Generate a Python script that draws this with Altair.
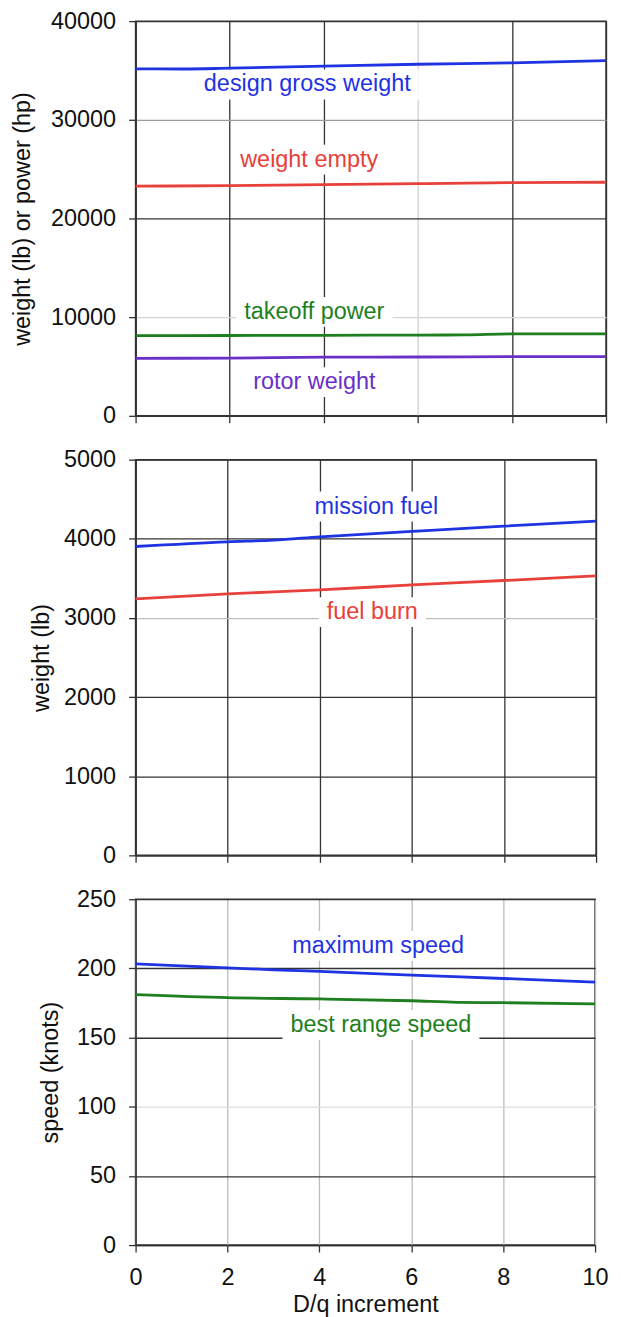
import altair as alt
import pandas as pd

FONT = "Liberation Sans"

# ---------------- data ----------------
# panel 1: weights / power
gross_x = [0, 1, 2, 4, 6, 8, 10]
gross_y = [35170, 35150, 35230, 35430, 35630, 35770, 36000]
empty_x = [0, 2, 4, 6, 8, 10]
empty_y = [23270, 23330, 23430, 23530, 23630, 23670]
power_x = [0, 2, 4, 6, 7, 8, 10]
power_y = [8130, 8140, 8160, 8180, 8200, 8300, 8300]
rotor_x = [0, 2, 4, 6, 8, 10]
rotor_y = [5830, 5850, 5950, 5960, 5990, 6000]

# panel 2: fuel
mfuel_x = [0, 2, 3, 4, 6, 8, 10]
mfuel_y = [3903, 3962, 3983, 4025, 4093, 4160, 4224]
burn_x = [0, 2, 4, 6, 8, 10]
burn_y = [3240, 3304, 3354, 3418, 3473, 3532]

# panel 3: speeds
vmax_x = [0, 2, 3, 4, 6, 8, 10]
vmax_y = [203.3, 200.4, 199.0, 197.8, 195.1, 192.7, 190.1]
vbr_x = [0, 2, 4, 6, 7, 8, 10]
vbr_y = [181.0, 178.8, 177.9, 176.6, 175.5, 175.2, 174.3]

# labels (text, x, y)
p1_labels = ["design gross weight", "weight empty", "takeoff power", "rotor weight"]
p1_lab_x = [3.65, 3.69, 3.8, 3.8]
p1_lab_y = [33580, 25960, 10530, 3410]
p2_labels = ["mission fuel", "fuel burn"]
p2_lab_x = [5.23, 5.14]
p2_lab_y = [4408, 3073]
p3_labels = ["maximum speed", "best range speed"]
p3_lab_x = [5.28, 5.34]
p3_lab_y = [216.3, 159.0]

x_ticks = [0, 2, 4, 6, 8, 10]
p1_yticks = [0, 10000, 20000, 30000, 40000]
p2_yticks = [0, 1000, 2000, 3000, 4000, 5000]
p3_yticks = [0, 50, 100, 150, 200, 250]

# ---------------- styles ----------------
BLUE = "#1f33e3"
RED = "#e8403a"
GREEN = "#1e7f1e"
PURPLE = "#6a30c8"
DARK = "#333333"

# approx Arial advance widths (em) for label boxes
_W = {" ": .278, "a": .556, "b": .556, "c": .5, "d": .556, "e": .556, "f": .278,
      "g": .556, "h": .556, "i": .222, "k": .5, "l": .222, "m": .833, "n": .556,
      "o": .556, "p": .556, "r": .333, "s": .5, "t": .278, "u": .556, "w": .722,
      "x": .5, "y": .5}
FS = 23.5


def text_px(s):
    return sum(_W.get(c, .55) for c in s) * FS


def series_df(name, xs, ys):
    return pd.DataFrame({"x": xs, "y": ys, "s": [name] * len(xs)})


def panel(series, colors, labels, lab_x, lab_y, lab_colors, yticks, ymax,
          width, height, ytitle, ycond, xcond, last, title_pad):
    ppx = width / 10.0
    ppy = height / ymax
    boxes = pd.DataFrame({
        "x1": [lx - (text_px(t) / 2 + 8) / ppx for t, lx in zip(labels, lab_x)],
        "x2": [lx + (text_px(t) / 2 + 8) / ppx for t, lx in zip(labels, lab_x)],
        "y1": [ly - 15 / ppy for ly in lab_y],
        "y2": [ly + 15 / ppy for ly in lab_y],
    })
    labdf = pd.DataFrame({"t": labels, "x": lab_x, "y": lab_y, "c": lab_colors})

    xaxis = alt.Axis(values=x_ticks, tickSize=7, tickColor=DARK, tickWidth=1.3,
                     domainColor=DARK, domainWidth=1.5, gridColor=xcond, gridWidth=1.3,
                     labels=last, labelFlush=False, labelFontSize=FS, labelFont=FONT,
                     labelColor="#111111", labelPadding=14,
                     title="D/q increment" if last else None,
                     titleFontSize=FS, titleFont=FONT, titleFontWeight="normal",
                     titleColor="#111111", titlePadding=3)
    yaxis = alt.Axis(values=yticks, format="d", tickSize=7, tickColor=DARK, tickWidth=1.3,
                     domainColor=DARK, domainWidth=1.5, gridColor=ycond, gridWidth=1.3,
                     labelFontSize=FS, labelFont=FONT, labelColor="#111111",
                     labelPadding=13, title=ytitle, titleFontSize=FS, titleFont=FONT,
                     titleFontWeight="normal", titleColor="#111111",
                     titlePadding=title_pad)
    xs = alt.Scale(domain=[0, 10], nice=False, zero=False)
    ys = alt.Scale(domain=[0, ymax], nice=False)

    base_axes = alt.Chart(boxes).mark_rect(fill="white", stroke=None).encode(
        x=alt.X("x1:Q", scale=xs, axis=xaxis),
        x2="x2",
        y=alt.Y("y1:Q", scale=ys, axis=yaxis),
        y2="y2",
    )
    layers = [base_axes]
    for (name, xsv, ysv), col in zip(series, colors):
        layers.append(
            alt.Chart(series_df(name, xsv, ysv)).mark_line(
                color=col, strokeWidth=2.8, interpolate="monotone"
            ).encode(x=alt.X("x:Q", scale=xs), y=alt.Y("y:Q", scale=ys))
        )
    layers.append(
        alt.Chart(labdf).mark_text(font=FONT, fontSize=FS, align="center",
                                   baseline="middle").encode(
            x=alt.X("x:Q", scale=xs), y=alt.Y("y:Q", scale=ys),
            text="t:N", color=alt.Color("c:N", scale=None)
        )
    )
    return alt.layer(*layers).properties(width=width, height=height)


def cond(pairs, default):
    return {"condition": [{"test": f"datum.value === {v}", "value": c} for v, c in pairs],
            "value": default}


p1 = panel(
    [("design gross weight", gross_x, gross_y), ("weight empty", empty_x, empty_y),
     ("takeoff power", power_x, power_y), ("rotor weight", rotor_x, rotor_y)],
    [BLUE, RED, GREEN, PURPLE],
    p1_labels, p1_lab_x, p1_lab_y, [BLUE, RED, GREEN, PURPLE],
    p1_yticks, 40000, 472, 396, "weight (lb) or power (hp)",
    cond([(10000, "#d4d4d4"), (30000, "#9a9a9a")], DARK),
    cond([(6, "#d0d0d0")], DARK), False, 16)

p2 = panel(
    [("mission fuel", mfuel_x, mfuel_y), ("fuel burn", burn_x, burn_y)],
    [BLUE, RED],
    p2_labels, p2_lab_x, p2_lab_y, [BLUE, RED],
    p2_yticks, 5000, 462, 397, "weight (lb)",
    cond([(3000, "#bdbdbd")], DARK),
    DARK, False, 10)

p3 = panel(
    [("maximum speed", vmax_x, vmax_y), ("best range speed", vbr_x, vbr_y)],
    [BLUE, GREEN],
    p3_labels, p3_lab_x, p3_lab_y, [BLUE, GREEN],
    p3_yticks, 250, 461, 347, "speed (knots)",
    cond([(100, "#dddddd")], DARK),
    "#bdbdbd", True, 14)

chart = alt.vconcat(p1, p2, p3, spacing=18).properties(
    padding={"left": 1, "top": -2, "right": 0, "bottom": 0},
    background="white",
).configure_view(stroke=DARK, strokeWidth=1.5)

chart.save("out.html", embed_options={"renderer": "svg", "actions": False})
